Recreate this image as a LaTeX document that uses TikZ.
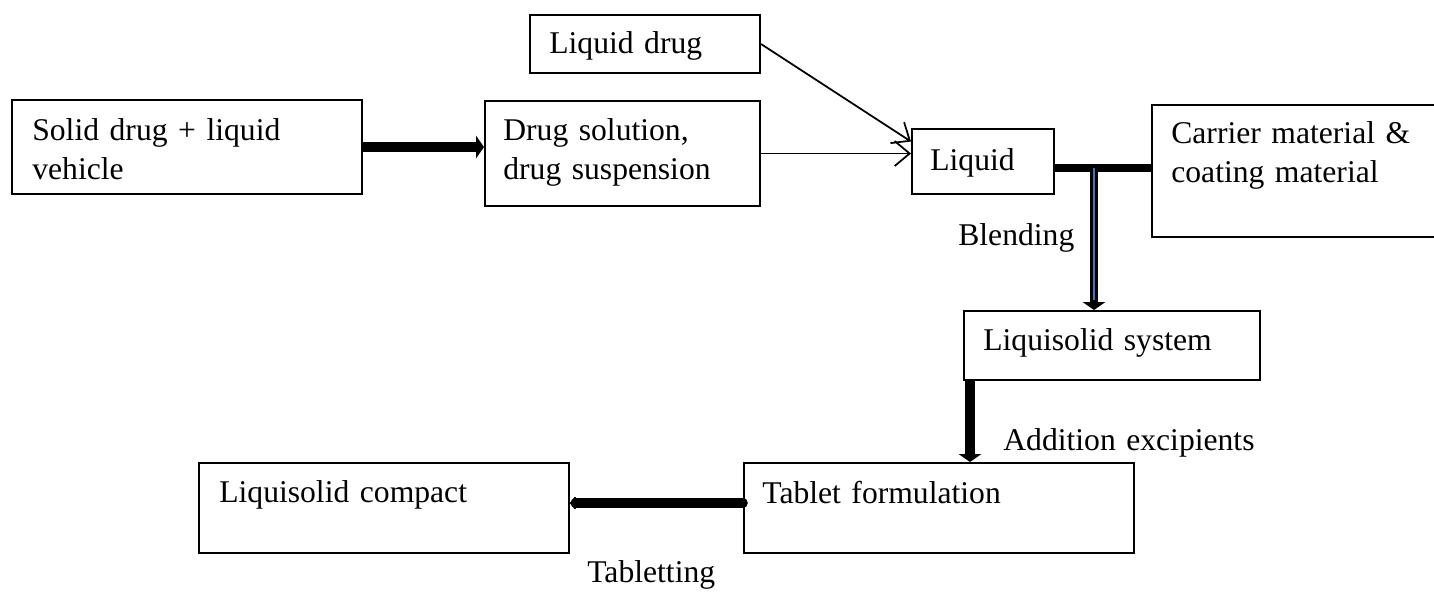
\documentclass[tikz,border=0pt]{standalone}
\usepackage{fontspec}
\setmainfont{Liberation Serif}
\usetikzlibrary{arrows.meta,calc}
\definecolor{midblue}{RGB}{68,114,196}
\tikzset{
  box/.style={draw,line width=1.2pt,anchor=north west,inner sep=0pt},
  lbl/.style={anchor=base west,inner sep=0pt,text width=#1,align=left,
    font=\fontsize{18}{22.2}\selectfont},
  lbl/.default=7cm,
  thin arrow/.style={line width=1pt,-{Straight Barb[length=0.3cm,width=0.5cm]}},
  fat arrow/.style={line width=#1,-{Triangle[width=0.45cm,length=0.16cm]}},
}

\begin{document}
\begin{tikzpicture}[x=0.02cm,y=-0.02cm]
\useasboundingbox (0,0) rectangle (1434,592);
% boxes
\node[box,minimum width=4.6cm,minimum height=1.16cm](ldrug) at (529,14){};
\node[box,minimum width=7cm,minimum height=1.88cm](solid) at (11,99){};
\node[box,minimum width=5.5cm,minimum height=2.1cm](dsol) at (484,100){};
\node[box,minimum width=2.84cm,minimum height=1.3cm](liq) at (911,128){};
\node[box,minimum width=6.18cm,minimum height=2.64cm](carrier) at (1151,104){};
\node[box,minimum width=5.92cm,minimum height=1.38cm](lsys) at (963,310){};
\node[box,minimum width=7.8cm,minimum height=1.8cm](tab) at (743,462){};
\node[box,minimum width=7.4cm,minimum height=1.8cm](comp) at (198,462){};
% texts
\node[lbl](ldrugT) at (549,53){Liquid drug};
\node[lbl](solidT) at (32,140){Solid drug + liquid\\vehicle};
\node[lbl](dsolT) at (503,140){Drug solution,\\drug suspension};
\node[lbl](liqT) at (930,170){Liquid};
\node[lbl](carrierT) at (1171,143){Carrier material \&\\coating material};
\node[lbl](lsysT) at (983,350){Liquisolid system};
\node[lbl](tabT) at (762,503){Tablet formulation};
\node[lbl](compT) at (219,502){Liquisolid compact};
\node[lbl](blendT) at (958,245){Blending};
\node[lbl](addT) at (1003,450){Addition excipients};
\node[lbl](tabletT) at (587,582){Tabletting};
% connectors
\draw[fat arrow=6pt] (solid.east) -- (solid.east -| dsol.west);
\draw[thin arrow] (ldrug.east) -- ([yshift=0.4cm]liq.west);
\draw[thin arrow] (dsol.east) -- (dsol.east -| liq.west);
\coordinate (tj) at (1094,168);
\draw[line width=4.5pt] (liq.east |- tj) -- (carrier.west |- tj);
\draw[fat arrow=5pt] (tj) -- (tj |- lsys.north);
\draw[midblue,line width=0.6pt] (tj) -- ([yshift=0.2cm]tj |- lsys.north);
\coordinate (ls) at ([xshift=0.14cm]lsys.south west);
\draw[fat arrow=5.5pt] (ls) -- (ls |- tab.north);
\draw[line width=5.5pt,line cap=round,-{Triangle[width=0.3cm,length=0.12cm,round]}]
  ([yshift=0.1cm]tab.west) -- ([yshift=0.1cm]comp.east);
\end{tikzpicture}
\end{document}
